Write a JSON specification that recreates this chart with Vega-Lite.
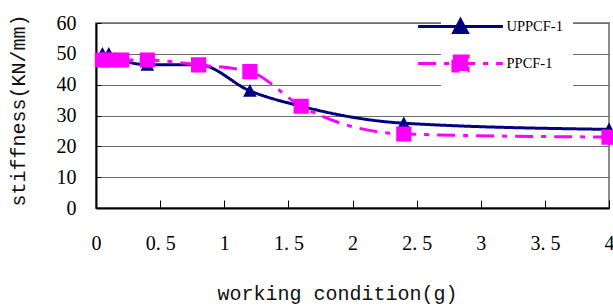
{
  "$schema": "https://vega.github.io/schema/vega-lite/v6.json",
  "width": 513,
  "height": 185,
  "autosize": {"type": "none"},
  "padding": {"left": 96, "top": 23, "right": 4, "bottom": 97},
  "background": "white",
  "config": {
    "view": {"stroke": "#8c8c8c", "strokeWidth": 2}
  },
  "data": {
    "values": [
      {"series": "UPPCF-1", "x": 0.05, "y": 50},
      {"series": "UPPCF-1", "x": 0.1, "y": 50},
      {"series": "UPPCF-1", "x": 0.2, "y": 48},
      {"series": "UPPCF-1", "x": 0.4, "y": 46.5},
      {"series": "UPPCF-1", "x": 0.8, "y": 46.5},
      {"series": "UPPCF-1", "x": 1.2, "y": 38},
      {"series": "UPPCF-1", "x": 1.6, "y": 33},
      {"series": "UPPCF-1", "x": 2.4, "y": 27.5},
      {"series": "UPPCF-1", "x": 4, "y": 25.5},
      {"series": "PPCF-1", "x": 0.05, "y": 48},
      {"series": "PPCF-1", "x": 0.1, "y": 48},
      {"series": "PPCF-1", "x": 0.2, "y": 48},
      {"series": "PPCF-1", "x": 0.4, "y": 48},
      {"series": "PPCF-1", "x": 0.8, "y": 46.4},
      {"series": "PPCF-1", "x": 1.2, "y": 44.2},
      {"series": "PPCF-1", "x": 1.6, "y": 33},
      {"series": "PPCF-1", "x": 2.4, "y": 24},
      {"series": "PPCF-1", "x": 4, "y": 23}
    ]
  },
  "encoding": {
    "x": {
      "field": "x", "type": "quantitative",
      "scale": {"domain": [0, 4], "nice": false},
      "axis": {
        "values": [0, 0.5, 1, 1.5, 2, 2.5, 3, 3.5, 4],
        "format": "~g",
        "grid": false,
        "tickSize": -8, "tickColor": "black", "tickWidth": 1,
        "domainColor": "black", "domainWidth": 2,
        "labelFont": "Liberation Serif", "labelFontSize": 20, "labelColor": "black",
        "labelPadding": 43, "labelBaseline": "middle", "labelFlush": false, "labelOverlap": false,
        "labelExpr": "replace(datum.label, '.', '. ')",
        "title": "working condition(g)",
        "titleFont": "Liberation Mono", "titleFontSize": 20, "titleFontWeight": "normal", "titleColor": "#111",
        "titleX": 241, "titleY": 85, "titleBaseline": "middle", "titleAlign": "center"
      }
    },
    "y": {
      "field": "y", "type": "quantitative",
      "scale": {"domain": [0, 60], "nice": false},
      "axis": {
        "values": [0, 10, 20, 30, 40, 50, 60],
        "grid": true, "gridColor": "#6e6e6e", "gridWidth": 1,
        "tickSize": -5, "tickColor": "black", "tickWidth": 1,
        "domainColor": "black", "domainWidth": 2,
        "labelFont": "Liberation Serif", "labelFontSize": 20, "labelColor": "black",
        "labelPadding": 25, "labelFlush": false, "labelOverlap": false,
        "title": "stiffness(KN/mm)",
        "titleFont": "Liberation Mono", "titleFontSize": 20, "titleFontWeight": "normal", "titleColor": "#111",
        "titleX": -78, "titleY": 87, "titleAngle": 270, "titleBaseline": "middle", "titleAlign": "center"
      }
    },
    "color": {
      "field": "series", "type": "nominal",
      "scale": {"domain": ["UPPCF-1", "PPCF-1"], "range": ["#000080", "#FF00FF"]},
      "legend": {
        "orient": "none", "legendX": 345, "legendY": -16,
        "title": null, "fillColor": "white", "padding": 10,
        "symbolSize": 256, "symbolStrokeWidth": 3, "symbolOpacity": 1,
        "labelFont": "Liberation Serif", "labelFontSize": 14.5, "labelColor": "black",
        "labelOffset": 36.5, "rowPadding": 10,
        "labelExpr": "datum.label + '   '"
      }
    }
  },
  "layer": [
    {
      "mark": {"type": "line", "interpolate": "monotone", "strokeWidth": 3},
      "encoding": {
        "strokeDash": {
          "field": "series", "type": "nominal",
          "scale": {"domain": ["UPPCF-1", "PPCF-1"], "range": [[1, 0], [18, 8, 5, 8]]},
          "legend": null
        }
      }
    },
    {
      "mark": {"type": "point", "filled": true, "size": 256, "opacity": 1, "strokeWidth": 0},
      "encoding": {
        "shape": {
          "field": "series", "type": "nominal",
          "scale": {"domain": ["UPPCF-1", "PPCF-1"], "range": ["M-7,0M-5.3,0H5.3M0,-0.85L0.85,0.75L-0.85,0.75Z", "M-7,0M-5.3,0H5.3M-0.95,-0.95H0.95V0.95H-0.95Z"]},
          "legend": null
        }
      }
    }
  ]
}
